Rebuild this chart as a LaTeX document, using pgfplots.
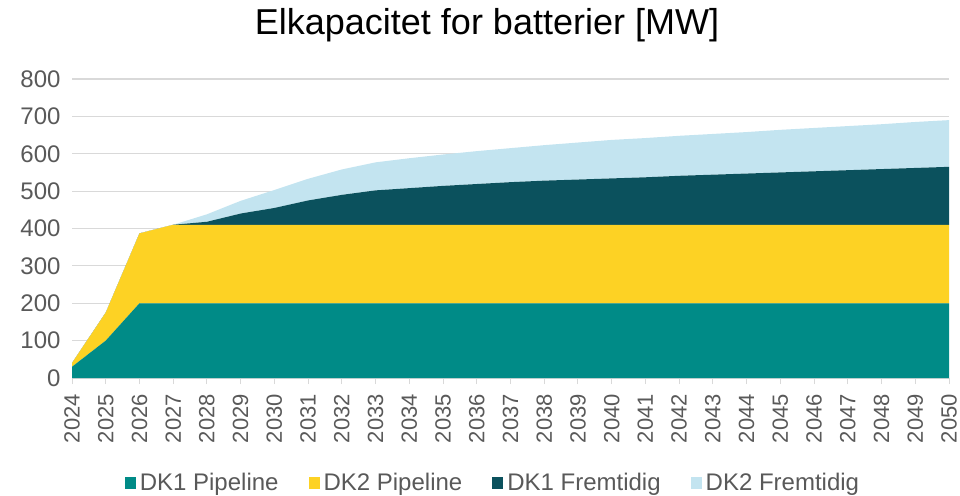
\documentclass[border=0pt]{standalone}
\usepackage{fontspec}
\setmainfont{Liberation Sans}
\usepackage{pgfplots}
\usepackage{pgfplotstable}
\pgfplotsset{compat=1.18}
\definecolor{dkone}{HTML}{008B87}
\definecolor{dktwo}{HTML}{FDD224}
\definecolor{dkonef}{HTML}{0B515D}
\definecolor{dktwof}{HTML}{C3E4F0}
\definecolor{txt}{HTML}{595959}
\definecolor{grd}{HTML}{D9D9D9}
\pgfplotstableread{
year dk1p dk2p dk1f dk2f
2024 30 10 0 0
2025 100 75 0 0
2026 200 187 0 0
2027 200 210 0 0
2028 200 210 8 20
2029 200 210 30 34
2030 200 210 45 48
2031 200 210 65 58
2032 200 210 80 68
2033 200 210 92 75
2034 200 210 98 80
2035 200 210 104 84
2036 200 210 109 88
2037 200 210 114 91
2038 200 210 118 95
2039 200 210 121 99
2040 200 210 124 103
2041 200 210 127 105
2042 200 210 131 107
2043 200 210 134 109
2044 200 210 137 111
2045 200 210 140 114
2046 200 210 143 116
2047 200 210 146 118
2048 200 210 149 120
2049 200 210 152 123
2050 200 210 155 125
}\data
\begin{document}
\begin{tikzpicture}
\useasboundingbox (-72pt,-117pt) rectangle (888pt,378pt);
\begin{axis}[
  at={(0,0)}, anchor=south west,
  scale only axis, width=877pt, height=299pt,
  xmin=2024, xmax=2050, ymin=0, ymax=800,
  xtick={2024,2025,...,2050}, ytick={0,100,...,800},
  stack plots=y,
  axis x line*=bottom, axis y line*=left,
  x axis line style={draw=grd, line width=1.2pt},
  y axis line style={draw=none},
  ytick style={draw=none},
  xtick style={draw=grd, line width=1pt},
  tick align=outside, major tick length=6pt,
  ymajorgrids, grid style={draw=grd, line width=1.2pt},
  /pgf/number format/.cd, 1000 sep={}, assume math mode=true,
  /pgfplots/.cd,
  tick label style={font=\fontsize{24}{28}\selectfont, text=txt},
  xticklabel style={rotate=90, anchor=east, inner sep=1pt, font=\fontsize{22}{26}\selectfont},
  xticklabel shift=9pt,
  yticklabel style={xshift=-2pt},
  legend style={at={(0.48,-0.351)}, anchor=center, draw=none, fill=none,
    font=\fontsize{24}{28}\selectfont, text=txt, legend columns=4,
    /tikz/every odd column/.append style={column sep=2pt},
    /tikz/every even column/.append style={column sep=28pt}},
  legend image code/.code={\fill[#1] (0pt,-6pt) rectangle (11pt,6pt);},
]
\addplot[fill=dkone, draw=none] table[x=year, y=dk1p] {\data} \closedcycle;
\addlegendentry{DK1 Pipeline}
\addplot[fill=dktwo, draw=none] table[x=year, y=dk2p] {\data} \closedcycle;
\addlegendentry{DK2 Pipeline}
\addplot[fill=dkonef, draw=none] table[x=year, y=dk1f] {\data} \closedcycle;
\addlegendentry{DK1 Fremtidig}
\addplot[fill=dktwof, draw=none] table[x=year, y=dk2f] {\data} \closedcycle;
\addlegendentry{DK2 Fremtidig}
\end{axis}
\node[font=\fontsize{36}{40}\selectfont, text=black] at (415pt,353pt) {Elkapacitet for batterier [MW]};
\end{tikzpicture}
\end{document}
